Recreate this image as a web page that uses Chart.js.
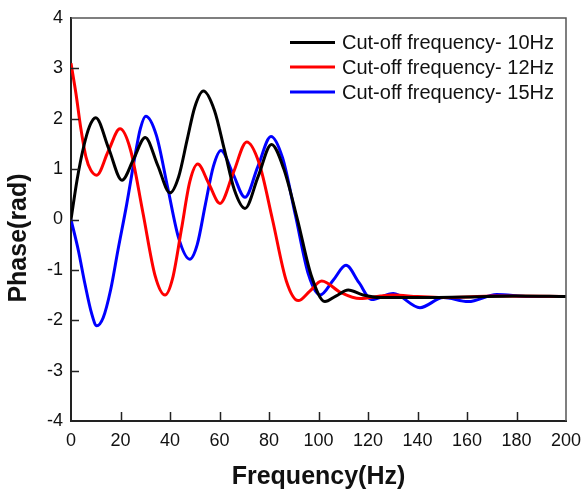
<!DOCTYPE html>
<html>
<head>
<meta charset="utf-8">
<script src="https://cdn.jsdelivr.net/npm/chart.js@4"></script>
<style>
  html, body { margin: 0; padding: 0; background: #fff; }
  canvas { display: block; }
</style>
</head>
<body>
<canvas id="phaseChart" width="584" height="493"></canvas>
<script>
// phase response curves
const xTicks = [0, 20, 40, 60, 80, 100, 120, 140, 160, 180, 200];
const yTicks = [-4, -3, -2, -1, 0, 1, 2, 3, 4];

const freq10 = [0, 2.5, 5, 7.5, 10, 15.3, 20.6, 25.3, 30, 35, 40, 43.5, 47, 50, 53.5, 58, 62, 66, 70.3, 75.6, 81, 86, 91.5, 97, 102.6, 107, 112, 118, 125, 140, 160, 180, 200];
const phase10 = [0, 0.8, 1.42, 1.85, 2.02, 1.4, 0.78, 1.2, 1.63, 1.08, 0.53, 0.85, 1.6, 2.23, 2.55, 2.16, 1.38, 0.59, 0.22, 0.85, 1.49, 1.0, 0.0, -1.1, -1.63, -1.52, -1.4, -1.5, -1.55, -1.55, -1.54, -1.52, -1.53];

const freq12 = [0, 2, 4, 6, 8, 10.4, 15, 19.8, 24, 29, 34, 38, 41, 44.6, 48, 51.2, 55.7, 60.2, 65.6, 71, 76, 81.4, 87, 91.8, 96.5, 101.3, 109, 116.8, 125, 130, 140, 150, 160, 170, 200];
const phase12 = [3.1, 2.5, 1.8, 1.25, 0.98, 0.88, 1.35, 1.8, 1.39, 0.15, -1.12, -1.5, -1.18, -0.2, 0.75, 1.1, 0.71, 0.32, 0.93, 1.54, 1.12, 0.0, -1.22, -1.61, -1.42, -1.22, -1.45, -1.57, -1.52, -1.5, -1.53, -1.55, -1.54, -1.52, -1.53];

const freq15 = [0, 3, 5.6, 8.3, 10.4, 13, 16, 19, 22.5, 26, 28, 30.2, 34.5, 39, 43.5, 48, 51, 54.3, 57.5, 60.6, 65.5, 70.3, 75.5, 80.8, 85.5, 90.7, 96, 100.6, 106, 111.1, 116.3, 121.5, 130.2, 141, 150.4, 160.5, 172, 185, 200];
const phase15 = [0, -0.62, -1.27, -1.86, -2.11, -1.95, -1.4, -0.6, 0.3, 1.3, 1.8, 2.05, 1.67, 0.65, -0.37, -0.79, -0.5, 0.3, 1.05, 1.37, 0.9, 0.44, 1.05, 1.65, 1.22, 0.08, -1.1, -1.5, -1.2, -0.91, -1.25, -1.59, -1.47, -1.75, -1.55, -1.63, -1.49, -1.53, -1.53];

const seriesNames = ["Cut-off frequency- 10Hz", "Cut-off frequency- 12Hz", "Cut-off frequency- 15Hz"];
const seriesColors = ["#000000", "#ff0000", "#0000ff"];

const FONT = "Arial, 'Liberation Sans', sans-serif";

function toPoints(xs, ys) {
  return xs.map((x, i) => ({ x, y: ys[i] }));
}

// inward tick marks, frame, in-plot legend and axis titles
const framePlugin = {
  id: "frame",
  afterDraw(chart) {
    const { ctx, chartArea: a, scales } = chart;
    ctx.save();

    ctx.strokeStyle = "#555";
    ctx.lineWidth = 1.5;
    ctx.beginPath();
    ctx.moveTo(a.left, a.top);
    ctx.lineTo(a.right, a.top);
    ctx.lineTo(a.right, a.bottom);
    ctx.stroke();

    ctx.strokeStyle = "#222";
    ctx.lineWidth = 1.5;
    ctx.beginPath();
    xTicks.slice(1, -1).forEach((v) => {
      const px = Math.round(scales.x.getPixelForValue(v)) + 0.5;
      ctx.moveTo(px, a.bottom);
      ctx.lineTo(px, a.bottom - 9);
    });
    yTicks.slice(1, -1).forEach((v) => {
      const py = Math.round(scales.y.getPixelForValue(v)) + 0.5;
      ctx.moveTo(a.left, py);
      ctx.lineTo(a.left + 8, py);
    });
    ctx.stroke();

    // legend
    const rows = [42.5, 67, 92];
    ctx.font = "20px " + FONT;
    ctx.textBaseline = "middle";
    ctx.textAlign = "left";
    seriesNames.forEach((name, i) => {
      ctx.strokeStyle = seriesColors[i];
      ctx.lineWidth = 3;
      ctx.beginPath();
      ctx.moveTo(290, rows[i]);
      ctx.lineTo(335, rows[i]);
      ctx.stroke();
      ctx.fillStyle = "#111";
      ctx.fillText(name, 342, rows[i] + 1);
    });

    // axis titles
    ctx.fillStyle = "#111";
    ctx.font = "bold 25px " + FONT;
    ctx.textAlign = "center";
    ctx.fillText("Frequency(Hz)", (a.left + a.right) / 2, 477);

    ctx.translate(19, 238);
    ctx.rotate(-Math.PI / 2);
    ctx.fillText("Phase(rad)", 0, 0);
    ctx.restore();
  }
};

new Chart(document.getElementById("phaseChart"), {
  type: "line",
  data: {
    datasets: [
      { label: seriesNames[0], data: toPoints(freq10, phase10), borderColor: seriesColors[0] },
      { label: seriesNames[1], data: toPoints(freq12, phase12), borderColor: seriesColors[1] },
      { label: seriesNames[2], data: toPoints(freq15, phase15), borderColor: seriesColors[2] }
    ]
  },
  options: {
    responsive: false,
    animation: false,
    layout: { padding: { top: 18, right: 18, left: 0, bottom: 0 } },
    plugins: { legend: { display: false }, tooltip: { enabled: false } },
    elements: {
      point: { radius: 0 },
      line: { borderWidth: 3, cubicInterpolationMode: "monotone", fill: false }
    },
    scales: {
      x: {
        type: "linear",
        min: 0,
        max: 200,
        afterBuildTicks: (s) => { s.ticks = xTicks.map((v) => ({ value: v })); },
        afterFit: (s) => { s.height = 72; s.paddingLeft = 0; s.paddingRight = 0; },
        ticks: { padding: 9, color: "#111", font: { size: 18, family: FONT }, maxRotation: 0 },
        grid: { display: false, drawTicks: false },
        border: { color: "#222", width: 2 }
      },
      y: {
        min: -4,
        max: 4,
        afterBuildTicks: (s) => { s.ticks = yTicks.map((v) => ({ value: v })); },
        afterFit: (s) => { s.width = 71; s.paddingTop = 0; s.paddingBottom = 0; },
        ticks: { padding: 8, color: "#111", font: { size: 18, family: FONT } },
        grid: { display: false, drawTicks: false },
        border: { color: "#222", width: 2 }
      }
    }
  },
  plugins: [framePlugin]
});
</script>
</body>
</html>
